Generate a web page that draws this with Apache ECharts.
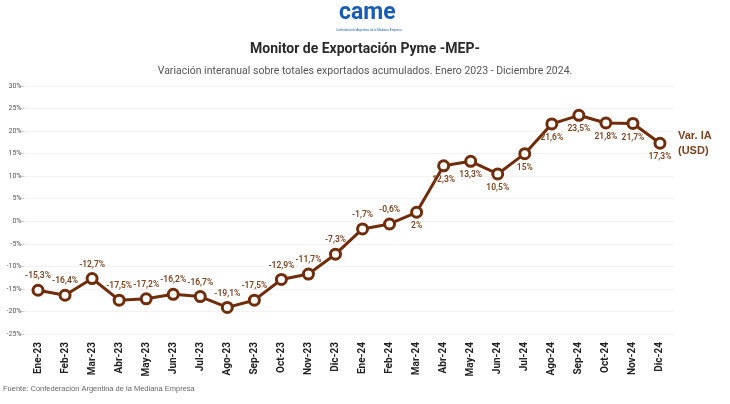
<!DOCTYPE html>
<html>
<head>
<meta charset="utf-8">
<script src="https://cdn.jsdelivr.net/npm/echarts@6/dist/echarts.min.js"></script>
<style>
  html, body { margin: 0; padding: 0; background: #fff; }
  #chart { width: 730px; height: 404px; }
</style>
</head>
<body>
<div id="chart"></div>
<script>
// months shown on the x axis
const months = [
  'Ene-23', 'Feb-23', 'Mar-23', 'Abr-23', 'May-23', 'Jun-23', 'Jul-23', 'Ago-23',
  'Sep-23', 'Oct-23', 'Nov-23', 'Dic-23', 'Ene-24', 'Feb-24', 'Mar-24', 'Abr-24',
  'May-24', 'Jun-24', 'Jul-24', 'Ago-24', 'Sep-24', 'Oct-24', 'Nov-24', 'Dic-24',
];

// variación interanual (%)
const varIA = [
  -15.3, -16.4, -12.7, -17.5, -17.2, -16.2, -16.7, -19.1,
  -17.5, -12.9, -11.7, -7.3, -1.7, -0.6, 2, 12.3,
  13.3, 10.5, 15, 21.6, 23.5, 21.8, 21.7, 17.3,
];

// from Mar-24 on the labels sit under the points
const labelsBelowFrom = 14;

const brown = '#6f2d0c';
const labelBrown = '#7d4420';

const chart = echarts.init(document.getElementById('chart'));

const fmt = v => `${String(v).replace('.', ',')}%`;

const option = {
  animation: false,
  textStyle: { fontFamily: 'Roboto' },
  title: [
    {
      text: 'Monitor de Exportación Pyme -MEP-',
      left: 'center',
      top: 37,
      textStyle: { fontSize: 14, fontWeight: 'bold', color: '#2a2a2a', fontFamily: 'Roboto' },
    },
    {
      text: 'Variación interanual sobre totales exportados acumulados. Enero 2023 - Diciembre 2024.',
      left: 'center',
      top: 61,
      textStyle: { fontSize: 10.5, fontWeight: 'normal', color: '#555', fontFamily: 'Roboto' },
    },
  ],
  graphic: [
    {
      type: 'text',
      left: 339,
      top: 2,
      style: { text: 'came', fontSize: 23, fontWeight: 'bold', fill: '#1a5cb5', fontFamily: 'Roboto' },
    },
    {
      type: 'text',
      left: 336,
      top: 29,
      style: { text: 'Confederación Argentina de la Mediana Empresa', fontSize: 3, fill: '#1a5cb5' },
    },
    {
      type: 'text',
      left: 678,
      top: 128,
      style: { text: 'Var. IA\n(USD)', fontSize: 11, lineHeight: 15, fontWeight: 'bold', fill: labelBrown },
    },
    {
      type: 'text',
      left: 3,
      top: 385,
      style: { text: 'Fuente: Confederación Argentina de la Mediana Empresa', fontSize: 7.5, fill: '#666' },
    },
  ],
  grid: {
    left: 24.5,
    right: 56.5,
    top: 86,
    bottom: 70,
  },
  xAxis: {
    type: 'category',
    data: months,
    boundaryGap: true,
    axisLine: { show: false },
    axisTick: { show: false },
    axisLabel: {
      rotate: 90,
      interval: 0,
      margin: 8,
      fontSize: 10,
      fontWeight: 'bold',
      color: '#222',
    },
  },
  yAxis: {
    type: 'value',
    min: -25,
    max: 30,
    interval: 5,
    axisLine: { show: false },
    axisTick: { show: true, length: 4, lineStyle: { color: '#ccc' } },
    axisLabel: {
      fontSize: 7,
      color: '#555',
      margin: 3,
      formatter: v => `${v}%`,
    },
    splitLine: { lineStyle: { color: '#f3f3f3' } },
  },
  series: [{
    type: 'line',
    data: varIA.map((v, i) => ({
      value: v,
      label: { position: i >= labelsBelowFrom ? 'bottom' : 'top' },
    })),
    symbol: 'circle',
    symbolSize: 10,
    lineStyle: { color: brown, width: 3 },
    itemStyle: { color: '#fff', borderColor: brown, borderWidth: 3 },
    label: {
      show: true,
      distance: 3,
      fontSize: 8.5,
      fontWeight: 600,
      color: labelBrown,
      formatter: p => fmt(p.value),
    },
  }],
};

chart.setOption(option);
</script>
</body>
</html>
